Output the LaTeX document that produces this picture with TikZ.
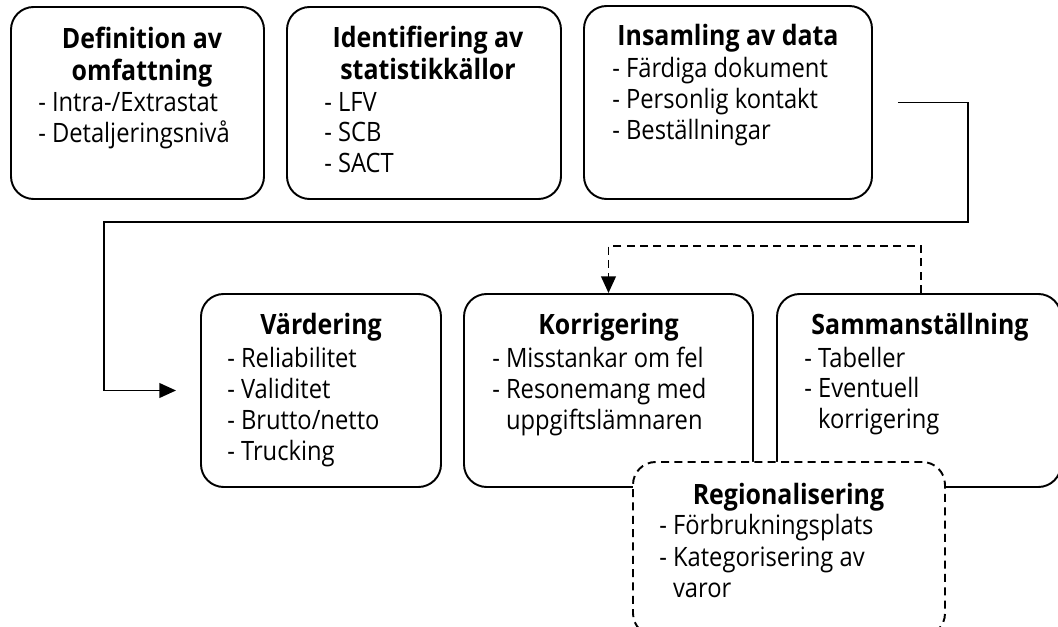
\documentclass[tikz,border=0pt]{standalone}
\usepackage{fontspec}
\setmainfont{Open Sans}[FakeStretch=0.89]
\usetikzlibrary{arrows.meta,fit}
\begin{document}
\begin{tikzpicture}[x=0.75pt,y=-0.75pt,
  box/.style={draw, line width=1.45pt, rounded corners=17pt, inner sep=0pt},
  dbox/.style={box, fill=white, dash pattern=on 6pt off 4pt},
  conn/.style={line width=1.45pt},
  tip/.style={-{Triangle[length=12.5pt,width=11pt]}},
  title/.style={anchor=base, inner sep=0pt, font=\fontsize{21}{24}\selectfont\bfseries},
  item/.style={anchor=base west, inner sep=0pt, font=\fontsize{20}{24}\selectfont}]
\useasboundingbox (0,0) rectangle (1058,627);

% upper row
\node[box, fit={(11,7) (264,199)}] (defn) {};
\node[box, fit={(287,7) (561,199)}] (ident) {};
\node[box, fit={(584,6) (872,199)}] (insam) {};
% lower row
\node[box, fit={(201,294) (441,487)}] (vard) {};
\node[box, fit={(464,294) (753,487)}] (korr) {};
\node[box, fit={(777,294) (1061,487)}] (samm) {};

% texts of the upper row
\node[title] (defnA) at (142,49) {Definition av};
\node[title] (defnB) at (142,81) {omfattning};
\node[item] (defn1) at (38,112) {- Intra-/Extrastat};
\node[item] (defn2) at (38,143) {- Detaljeringsnivå};

\node[title] (identA) at (428,48) {Identifiering av};
\node[title] (identB) at (428,80) {statistikkällor};
\node[item] (ident1) at (324,112) {- LFV};
\node[item] (ident2) at (324,142) {- SCB};
\node[item] (ident3) at (324,173) {- SACT};

\node[title] (insamA) at (728,46) {Insamling av data};
\node[item] (insam1) at (612,78) {- Färdiga dokument};
\node[item] (insam2) at (612,109) {- Personlig kontakt};
\node[item] (insam3) at (612,140) {- Beställningar};

% texts of the lower row
\node[title] (vardA) at (321,335) {Värdering};
\node[item] (vard1) at (227,368) {- Reliabilitet};
\node[item] (vard2) at (227,399) {- Validitet};
\node[item] (vard3) at (227,430) {- Brutto/netto};
\node[item] (vard4) at (227,461) {- Trucking};

\node[title] (korrA) at (608.5,335) {Korrigering};
\node[item] (korr1) at (492,368) {- Misstankar om fel};
\node[item] (korr2) at (492,399) {- Resonemang med};
\node[item] (korr3) at (492,430) {\phantom{- }uppgiftslämnaren};

\node[title] (sammA) at (920,335) {Sammanställning};
\node[item] (samm1) at (804,368) {- Tabeller};
\node[item] (samm2) at (804,398) {- Eventuell};
\node[item] (samm3) at (804,429) {\phantom{- }korrigering};

% flow from data collection down to valuation
\coordinate (turnA) at (968,222);
\coordinate (turnB) at (104,222);
\draw[conn, tip, shorten <=18.75pt, shorten >=18pt]
  (insam.east) -| (turnA) -- (turnB) |- (vard.west);

% feedback from compilation back to correction
\draw[conn, tip, dash pattern=on 6pt off 4pt]
  ([xshift=1.5pt]samm.north) -- ++(0,-47) -| (korr.north);

% regionalisation box on top
\node[dbox, fit={(633,462) (945,636)}] (regio) {};
\node[title] (regioA) at (788.5,505) {Regionalisering};
\node[item] (regio1) at (659,535) {- Förbrukningsplats};
\node[item] (regio2) at (659,566) {- Kategorisering av};
\node[item] (regio3) at (659,597) {\phantom{- }varor};
\end{tikzpicture}
\end{document}
